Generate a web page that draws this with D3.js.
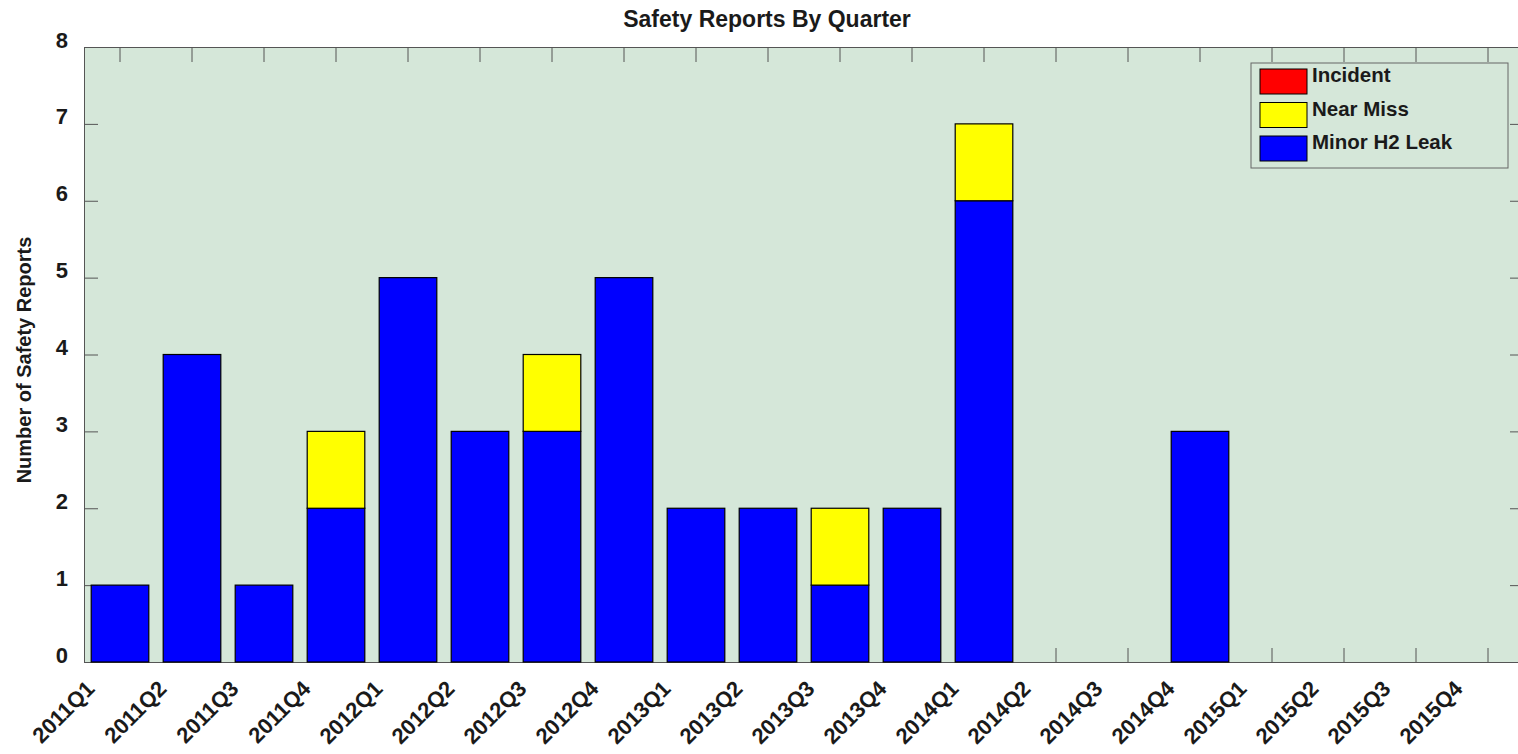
<!DOCTYPE html>
<html>
    <head>
        <title>Safety Reports By Quarter</title>
        <script src="https://d3js.org/d3.v7.min.js"></script>
        <style>
            body { margin: 0; background: #fff; }
            text { font-family: "Liberation Sans", Arial, sans-serif; font-weight: bold; fill: #1a1a1a; }
        </style>
    </head>
    <body>
        <div id="chart"></div>
        <script>
            // Data
            const quarters = ["2011Q1", "2011Q2", "2011Q3", "2011Q4", "2012Q1", "2012Q2", "2012Q3", "2012Q4",
                              "2013Q1", "2013Q2", "2013Q3", "2013Q4", "2014Q1", "2014Q2", "2014Q3", "2014Q4",
                              "2015Q1", "2015Q2", "2015Q3", "2015Q4"];
            const minorLeak = [1, 4, 1, 2, 5, 3, 3, 5, 2, 2, 1, 2, 6, 0, 0, 3, 0, 0, 0, 0];
            const nearMiss  = [0, 0, 0, 1, 0, 0, 1, 0, 0, 0, 1, 0, 1, 0, 0, 0, 0, 0, 0, 0];
            const incident  = [0, 0, 0, 0, 0, 0, 0, 0, 0, 0, 0, 0, 0, 0, 0, 0, 0, 0, 0, 0];
            const seriesNames = ["Minor H2 Leak", "Near Miss", "Incident"];
            const seriesColors = ["#0000ff", "#ffff00", "#ff0000"];
            const yTicks = [0, 1, 2, 3, 4, 5, 6, 7, 8];

            const W = 1518, H = 754;
            const plotL = 84, plotR = 1524, plotT = 47, plotB = 662;

            const svg = d3.select("#chart")
                .append("svg")
                .attr("width", W)
                .attr("height", H);

            //plot background
            svg.append("rect")
                .attr("x", plotL).attr("y", plotT)
                .attr("width", plotR - plotL).attr("height", plotB - plotT)
                .attr("fill", "#d5e7d9");

            const x = d3.scaleBand()
                .domain(quarters)
                .range([plotL, plotR])
                .paddingInner(0.2)
                .paddingOuter(0.1);

            const y = d3.scaleLinear()
                .domain([0, 8])
                .range([plotB, plotT]);

            const axisColor = "#555";

            // axes (drawn under the bars, ticks point inward)
            const gx = svg.append("g")
                .attr("transform", `translate(0,${plotB})`)
                .call(d3.axisBottom(x).tickSizeInner(-14).tickSizeOuter(0));
            gx.selectAll("text")
                .attr("x", 0).attr("y", 0).attr("dy", 0)
                .style("text-anchor", "end")
                .style("font-size", "22px")
                .attr("transform", "translate(-24,28) rotate(-45)");

            const gxTop = svg.append("g")
                .attr("transform", `translate(0,${plotT})`)
                .call(d3.axisTop(x).tickSizeInner(-15).tickSizeOuter(0));
            gxTop.selectAll("text").remove();

            const gy = svg.append("g")
                .attr("transform", `translate(${plotL},0)`)
                .call(d3.axisLeft(y).tickValues(yTicks).tickSizeInner(-14).tickSizeOuter(0).tickPadding(16));
            gy.selectAll("text")
                .attr("dy", 0)
                .style("font-size", "22px");

            const gyRight = svg.append("g")
                .attr("transform", `translate(${plotR},0)`)
                .call(d3.axisRight(y).tickValues(yTicks).tickSizeInner(-14).tickSizeOuter(0));
            gyRight.selectAll("text").remove();

            svg.selectAll(".domain, .tick line").attr("stroke", axisColor);

            // stacked bars
            const table = quarters.map((q, i) => ({
                quarter: q,
                "Minor H2 Leak": minorLeak[i],
                "Near Miss": nearMiss[i],
                "Incident": incident[i]
            }));
            const stacked = d3.stack().keys(seriesNames)(table);
            const color = d3.scaleOrdinal().domain(seriesNames).range(seriesColors);

            svg.append("g")
                .selectAll("g")
                .data(stacked)
                .enter()
                .append("g")
                .attr("fill", d => color(d.key))
                .selectAll("rect")
                .data(d => d)
                .enter().append("rect")
                .attr("x", d => x(d.data.quarter))
                .attr("y", d => y(d[1]))
                .attr("width", x.bandwidth())
                .attr("height", d => y(d[0]) - y(d[1]))
                .attr("stroke", "#000")
                .attr("stroke-width", 1.2);

            //Title
            svg.append("text")
                .attr("x", 767)
                .attr("y", 27)
                .style("text-anchor", "middle")
                .style("font-size", "23px")
                .text("Safety Reports By Quarter");

            //Y axis label
            svg.append("text")
                .attr("transform", `translate(31,360) rotate(-90)`)
                .style("text-anchor", "middle")
                .style("font-size", "20px")
                .text("Number of Safety Reports");

            //Legend
            const legend = svg.append("g");
            legend.append("rect")
                .attr("x", 1251).attr("y", 63)
                .attr("width", 257).attr("height", 105)
                .attr("fill", "#d5e7d9")
                .attr("stroke", "#666");
            const legendOrder = seriesNames.slice().reverse();
            legendOrder.forEach((name, i) => {
                const ry = 69 + i * 33.5;
                legend.append("rect")
                    .attr("x", 1260).attr("y", ry)
                    .attr("width", 47).attr("height", 25)
                    .attr("fill", color(name))
                    .attr("stroke", "#000");
                legend.append("text")
                    .attr("x", 1312).attr("y", ry + 13)
                    .style("font-size", "20.5px")
                    .text(name);
            });
        </script>
    </body>
</html>
